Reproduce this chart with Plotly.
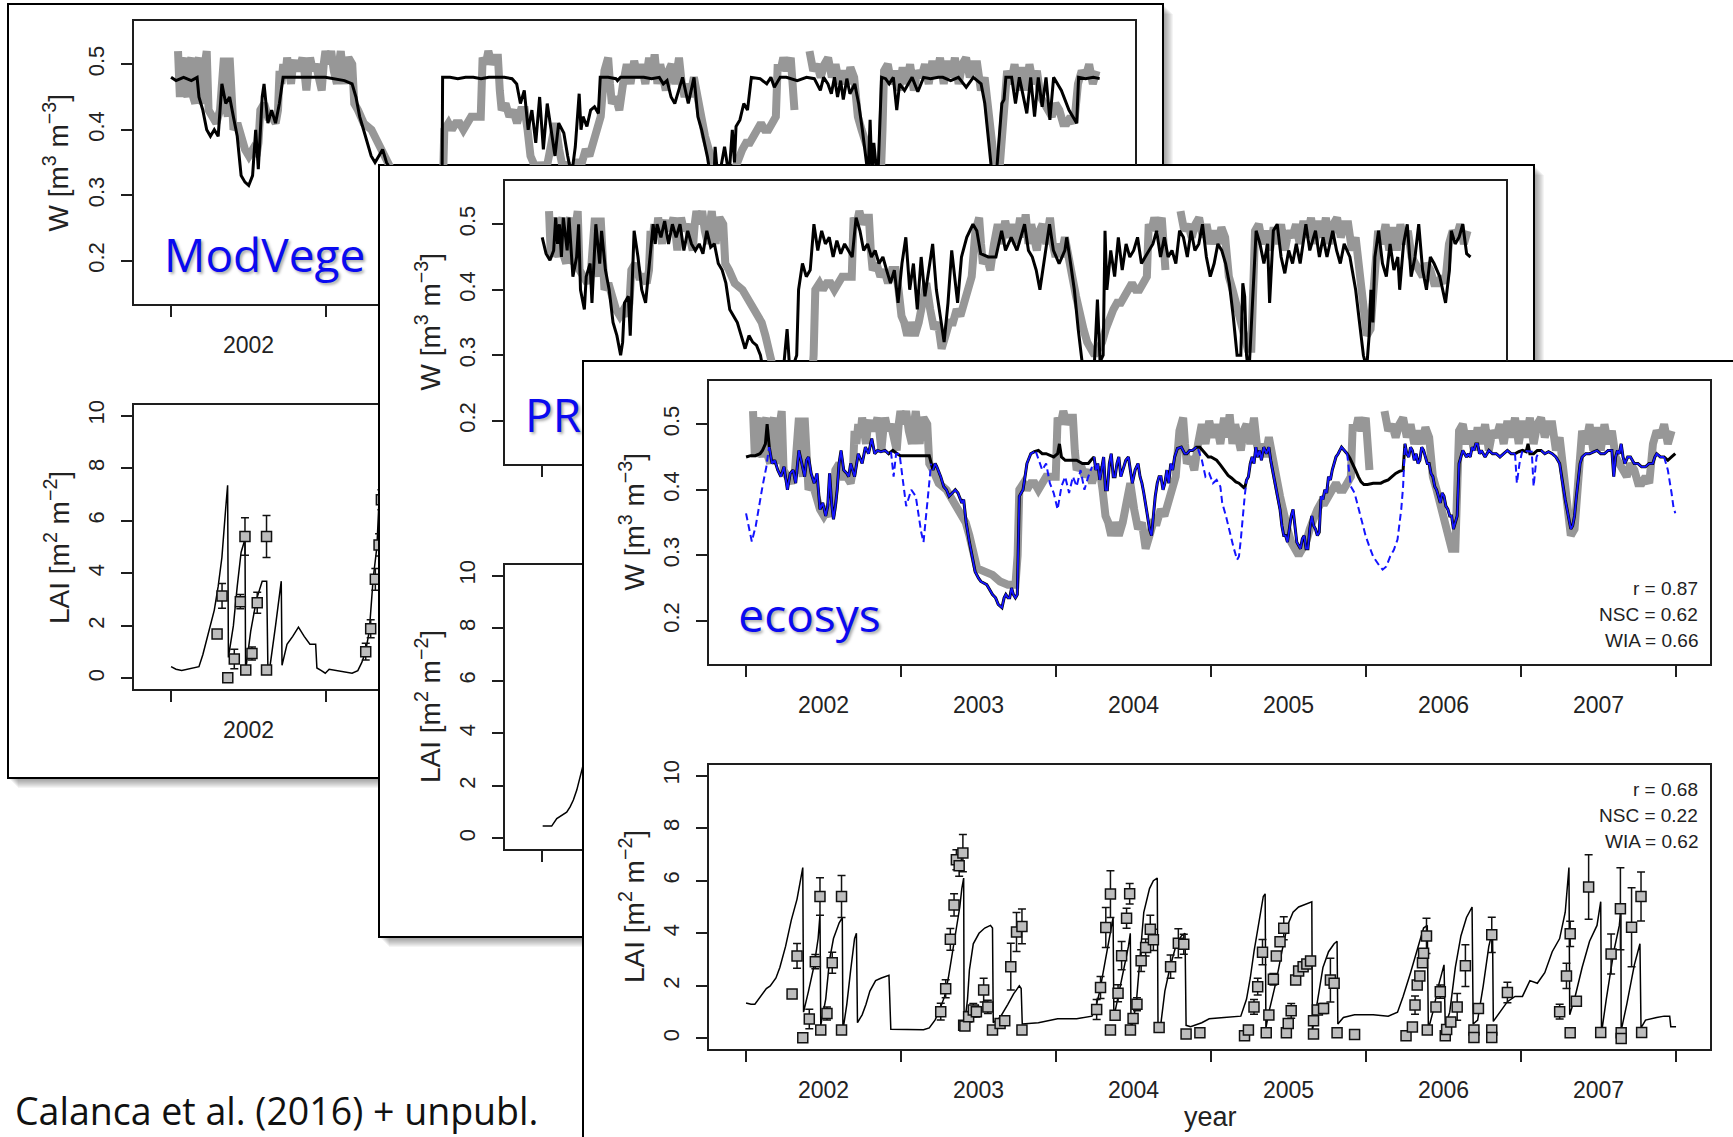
import plotly.graph_objects as go

FIG_W, FIG_H = 1733, 1137

# ---------------- axis tick values ----------------
YEAR_TICKS = [2002, 2003, 2004, 2005, 2006, 2007, 2008]
YEAR_LABEL_POS = [2002.5, 2003.5, 2004.5, 2005.5, 2006.5, 2007.5]
YEAR_LABELS = ["2002", "2003", "2004", "2005", "2006", "2007"]
W_TICKS = [0.2, 0.3, 0.4, 0.5]
W_TICK_TEXT = ["0.2", "0.3", "0.4", "0.5"]
LAI_TICKS = [0, 2, 4, 6, 8, 10]
LAI_TICK_TEXT = ["0", "2", "4", "6", "8", "10"]

MODEL_NAMES = ["ModVege", "PROGRASS", "ecosys"]
STATS_W = ["r = 0.87", "NSC = 0.62", "WIA = 0.66"]
STATS_LAI = ["r = 0.68", "NSC = 0.22", "WIA = 0.62"]

# ---------------- observed soil water (shared by all panels) ----------------
W_OBS = [
    [2002.045, 0.52], [2002.057, 0.45], [2002.070, 0.50], [2002.082, 0.51], [2002.094, 0.46],
    [2002.106, 0.45], [2002.118, 0.50], [2002.131, 0.51], [2002.143, 0.45], [2002.156, 0.44],
    [2002.168, 0.50], [2002.180, 0.51], [2002.193, 0.45], [2002.205, 0.44], [2002.218, 0.50],
    [2002.230, 0.52], [2002.242, 0.43], [2002.267, 0.42], [2002.292, 0.41], [2002.316, 0.43],
    [2002.330, 0.47], [2002.341, 0.51], [2002.352, 0.44], [2002.366, 0.42], [2002.378, 0.51],
    [2002.390, 0.43], [2002.403, 0.40], [2002.428, 0.41], [2002.452, 0.39], [2002.477, 0.37],
    [2002.502, 0.36], [2002.527, 0.37], [2002.551, 0.36], [2002.564, 0.38], [2002.576, 0.43],
    [2002.601, 0.44], [2002.625, 0.42], [2002.650, 0.42], [2002.675, 0.41], [2002.690, 0.43],
    [2002.700, 0.49], [2002.712, 0.47], [2002.724, 0.50], [2002.737, 0.48], [2002.749, 0.51],
    [2002.762, 0.48], [2002.774, 0.47], [2002.787, 0.50], [2002.799, 0.505], [2002.823, 0.49],
    [2002.848, 0.51], [2002.860, 0.49], [2002.873, 0.46], [2002.885, 0.49], [2002.897, 0.51],
    [2002.915, 0.49], [2002.934, 0.50], [2002.953, 0.48], [2002.972, 0.46], [2002.985, 0.50],
    [2002.996, 0.52], [2003.015, 0.50], [2003.033, 0.52], [2003.050, 0.49], [2003.070, 0.47],
    [2003.083, 0.50], [2003.095, 0.52], [2003.108, 0.49], [2003.120, 0.47], [2003.133, 0.50],
    [2003.145, 0.51], [2003.169, 0.50], [2003.182, 0.44], [2003.206, 0.43], [2003.243, 0.41],
    [2003.293, 0.40], [2003.342, 0.38], [2003.367, 0.37], [2003.392, 0.36], [2003.417, 0.35],
    [2003.441, 0.33], [2003.466, 0.30], [2003.491, 0.28], [2003.540, 0.275], [2003.590, 0.27],
    [2003.639, 0.26], [2003.689, 0.255], [2003.738, 0.255], [2003.752, 0.30], [2003.763, 0.40],
    [2003.790, 0.41], [2003.812, 0.40], [2003.837, 0.41], [2003.862, 0.41], [2003.886, 0.40],
    [2003.911, 0.41], [2003.936, 0.42], [2003.960, 0.42], [2003.998, 0.42], [2004.010, 0.51],
    [2004.030, 0.50], [2004.047, 0.52], [2004.070, 0.50], [2004.090, 0.51], [2004.109, 0.51],
    [2004.121, 0.46], [2004.133, 0.43], [2004.158, 0.44], [2004.183, 0.42], [2004.207, 0.43],
    [2004.232, 0.41], [2004.257, 0.43], [2004.282, 0.43], [2004.300, 0.40], [2004.319, 0.36],
    [2004.337, 0.35], [2004.356, 0.33], [2004.380, 0.35], [2004.405, 0.33], [2004.430, 0.35],
    [2004.455, 0.38], [2004.479, 0.41], [2004.504, 0.37], [2004.529, 0.34], [2004.554, 0.35],
    [2004.578, 0.31], [2004.603, 0.33], [2004.627, 0.35], [2004.651, 0.35], [2004.675, 0.37],
    [2004.699, 0.36], [2004.723, 0.38], [2004.747, 0.40], [2004.772, 0.42], [2004.796, 0.49],
    [2004.820, 0.51], [2004.832, 0.47], [2004.844, 0.44], [2004.868, 0.45], [2004.892, 0.43],
    [2004.916, 0.47], [2004.940, 0.50], [2004.964, 0.47], [2004.988, 0.505], [2005.012, 0.48],
    [2005.036, 0.50], [2005.060, 0.47], [2005.084, 0.51], [2005.102, 0.48], [2005.120, 0.515],
    [2005.138, 0.47], [2005.156, 0.50], [2005.174, 0.48], [2005.192, 0.46], [2005.210, 0.49],
    [2005.229, 0.50], [2005.253, 0.47], [2005.277, 0.51], [2005.295, 0.47], [2005.313, 0.45],
    [2005.331, 0.47], [2005.349, 0.45], [2005.373, 0.48], [2005.397, 0.44], [2005.421, 0.42],
    [2005.445, 0.39], [2005.469, 0.36], [2005.493, 0.34], [2005.517, 0.32], [2005.541, 0.31],
    [2005.565, 0.30], [2005.589, 0.31], [2005.613, 0.32], [2005.637, 0.34], [2005.662, 0.36],
    [2005.686, 0.37], [2005.710, 0.38], [2005.734, 0.38], [2005.758, 0.39], [2005.782, 0.40],
    [2005.806, 0.41], [2005.830, 0.40], [2005.854, 0.40], [2005.878, 0.41], [2005.902, 0.42],
    [2005.914, 0.50], [2005.932, 0.49], [2005.950, 0.51], [2005.974, 0.49], [2005.998, 0.51],
    [2006.010, 0.47], [2006.022, 0.43], [None, None],
    [2006.119, 0.52], [2006.143, 0.49], [2006.167, 0.50], [2006.191, 0.48], [2006.215, 0.50],
    [2006.239, 0.51], [2006.263, 0.48], [2006.287, 0.50], [2006.311, 0.47], [2006.335, 0.49],
    [2006.359, 0.47], [2006.383, 0.495], [2006.407, 0.48], [2006.431, 0.42], [2006.455, 0.40],
    [2006.479, 0.38], [2006.503, 0.36], [2006.528, 0.34], [2006.552, 0.31], [2006.576, 0.31],
    [2006.590, 0.40], [2006.600, 0.49], [2006.624, 0.50], [2006.648, 0.47], [2006.672, 0.49],
    [2006.696, 0.46], [2006.720, 0.495], [2006.744, 0.47], [2006.768, 0.50], [2006.792, 0.46],
    [2006.816, 0.49], [2006.840, 0.48], [2006.864, 0.50], [2006.888, 0.47], [2006.912, 0.505],
    [2006.936, 0.48], [2006.961, 0.51], [2006.985, 0.47], [2007.009, 0.505], [2007.033, 0.48],
    [2007.057, 0.51], [2007.081, 0.47], [2007.105, 0.50], [2007.129, 0.51], [2007.153, 0.48],
    [2007.177, 0.50], [2007.201, 0.50], [2007.225, 0.46], [2007.249, 0.48], [2007.273, 0.42],
    [2007.297, 0.38], [2007.321, 0.33], [2007.345, 0.34], [2007.369, 0.42], [2007.394, 0.49],
    [2007.418, 0.47], [2007.442, 0.50], [2007.466, 0.46], [2007.490, 0.495], [2007.514, 0.46],
    [2007.538, 0.50], [2007.562, 0.47], [2007.586, 0.49], [2007.610, 0.45], [2007.634, 0.44],
    [2007.658, 0.43], [2007.682, 0.42], [2007.706, 0.44], [2007.731, 0.43], [2007.755, 0.41],
    [2007.779, 0.41], [2007.803, 0.42], [2007.827, 0.41], [2007.851, 0.47], [2007.875, 0.49],
    [2007.899, 0.48], [2007.923, 0.50], [2007.947, 0.47], [2007.971, 0.49],
]

# ---------------- simulated soil water ----------------
W_MODVEGE = [
    [2002.000, 0.480], [2002.032, 0.475], [2002.081, 0.480], [2002.131, 0.475], [2002.168, 0.480],
    [2002.180, 0.450], [2002.205, 0.430], [2002.230, 0.400], [2002.254, 0.390], [2002.279, 0.400],
    [2002.304, 0.390], [2002.328, 0.470], [2002.353, 0.440], [2002.378, 0.450], [2002.402, 0.420],
    [2002.427, 0.390], [2002.452, 0.330], [2002.477, 0.320], [2002.501, 0.315], [2002.526, 0.330],
    [2002.546, 0.400], [2002.563, 0.340], [2002.588, 0.450], [2002.600, 0.470], [2002.625, 0.410],
    [2002.649, 0.430], [2002.674, 0.410], [2002.699, 0.440], [2002.723, 0.480], [2002.773, 0.480],
    [2002.872, 0.480], [2002.995, 0.480], [2003.119, 0.475], [2003.168, 0.470], [2003.193, 0.450],
    [2003.217, 0.420], [2003.242, 0.400], [2003.267, 0.380], [2003.291, 0.360], [2003.316, 0.350],
    [2003.341, 0.360], [2003.365, 0.370], [2003.390, 0.350], [2003.415, 0.340], [2003.440, 0.330],
    [2003.500, 0.290], [2003.560, 0.260], [2003.620, 0.240], [2003.680, 0.240], [2003.740, 0.260],
    [2003.748, 0.300], [2003.752, 0.480], [2003.800, 0.480], [2003.850, 0.478], [2003.900, 0.480],
    [2003.950, 0.480], [2004.000, 0.478], [2004.050, 0.480], [2004.100, 0.480], [2004.150, 0.480],
    [2004.200, 0.478], [2004.230, 0.470], [2004.254, 0.440], [2004.279, 0.460], [2004.304, 0.400],
    [2004.328, 0.430], [2004.353, 0.380], [2004.378, 0.450], [2004.402, 0.370], [2004.427, 0.440],
    [2004.452, 0.400], [2004.477, 0.360], [2004.501, 0.410], [2004.534, 0.395], [2004.559, 0.360],
    [2004.584, 0.330], [2004.608, 0.374], [2004.633, 0.455], [2004.645, 0.400], [2004.658, 0.420],
    [2004.683, 0.405], [2004.707, 0.430], [2004.732, 0.435], [2004.757, 0.425], [2004.769, 0.480],
    [2004.820, 0.480], [2004.870, 0.478], [2004.880, 0.475], [2004.900, 0.480], [2004.950, 0.480],
    [2005.000, 0.480], [2005.050, 0.480], [2005.100, 0.478], [2005.150, 0.480], [2005.176, 0.470],
    [2005.200, 0.475], [2005.226, 0.450], [2005.250, 0.440], [2005.275, 0.460], [2005.300, 0.480],
    [2005.337, 0.440], [2005.374, 0.480], [2005.399, 0.420], [2005.423, 0.400], [2005.460, 0.359],
    [2005.485, 0.330], [2005.500, 0.300], [2005.510, 0.374], [2005.530, 0.320], [2005.571, 0.374],
    [2005.600, 0.330], [2005.621, 0.400], [2005.635, 0.350], [2005.645, 0.405], [2005.670, 0.415],
    [2005.695, 0.440], [2005.719, 0.430], [2005.744, 0.480], [2005.800, 0.478], [2005.843, 0.470],
    [2005.870, 0.480], [2005.892, 0.465], [2005.930, 0.480], [2005.970, 0.480], [2006.000, 0.478],
    [2006.040, 0.475], [2006.100, 0.480], [2006.150, 0.478], [2006.189, 0.460], [2006.210, 0.480],
    [2006.238, 0.470], [2006.260, 0.455], [2006.280, 0.480], [2006.300, 0.450], [2006.320, 0.475],
    [2006.337, 0.446], [2006.360, 0.478], [2006.380, 0.455], [2006.411, 0.470], [2006.436, 0.440],
    [2006.460, 0.400], [2006.485, 0.360], [2006.497, 0.330], [2006.510, 0.415], [2006.522, 0.330],
    [2006.534, 0.380], [2006.559, 0.320], [2006.584, 0.480], [2006.610, 0.478], [2006.633, 0.470],
    [2006.660, 0.480], [2006.682, 0.430], [2006.700, 0.470], [2006.732, 0.460], [2006.781, 0.480],
    [2006.818, 0.458], [2006.855, 0.480], [2006.900, 0.478], [2006.950, 0.480], [2006.979, 0.480],
    [2007.030, 0.475], [2007.080, 0.480], [2007.130, 0.465], [2007.176, 0.480], [2007.226, 0.470],
    [2007.250, 0.440], [2007.275, 0.390], [2007.300, 0.340], [2007.310, 0.300], [2007.324, 0.330],
    [2007.349, 0.415], [2007.360, 0.440], [2007.374, 0.446], [2007.386, 0.480], [2007.423, 0.480],
    [2007.448, 0.440], [2007.473, 0.480], [2007.497, 0.450], [2007.521, 0.425], [2007.546, 0.480],
    [2007.571, 0.420], [2007.595, 0.480], [2007.620, 0.435], [2007.645, 0.480], [2007.670, 0.415],
    [2007.694, 0.480], [2007.719, 0.470], [2007.744, 0.460], [2007.793, 0.430], [2007.843, 0.410],
    [2007.855, 0.480], [2007.900, 0.478], [2007.950, 0.480], [2007.991, 0.478],
]

W_PROGRASS = [
    [2002.001, 0.48], [2002.026, 0.455], [2002.051, 0.445], [2002.075, 0.46], [2002.088, 0.51],
    [2002.100, 0.47], [2002.112, 0.50], [2002.125, 0.45], [2002.137, 0.51], [2002.162, 0.46],
    [2002.174, 0.51], [2002.199, 0.42], [2002.223, 0.45], [2002.236, 0.50], [2002.248, 0.40],
    [2002.273, 0.37], [2002.285, 0.42], [2002.310, 0.44], [2002.322, 0.38], [2002.347, 0.50],
    [2002.372, 0.44], [2002.384, 0.49], [2002.409, 0.43], [2002.433, 0.40], [2002.458, 0.35],
    [2002.483, 0.33], [2002.507, 0.30], [2002.520, 0.32], [2002.532, 0.38], [2002.557, 0.39],
    [2002.569, 0.33], [2002.594, 0.49], [2002.619, 0.45], [2002.643, 0.40], [2002.668, 0.38],
    [2002.693, 0.44], [2002.717, 0.50], [2002.730, 0.47], [2002.742, 0.50], [2002.767, 0.48],
    [2002.791, 0.505], [2002.816, 0.47], [2002.841, 0.50], [2002.865, 0.48], [2002.890, 0.50],
    [2002.915, 0.46], [2002.940, 0.49], [2002.964, 0.47], [2002.989, 0.46], [2003.014, 0.47],
    [2003.038, 0.455], [2003.063, 0.49], [2003.088, 0.465], [2003.112, 0.47], [2003.137, 0.44],
    [2003.162, 0.43], [2003.186, 0.41], [2003.211, 0.37], [2003.236, 0.36], [2003.260, 0.35],
    [2003.285, 0.33], [2003.310, 0.31], [2003.335, 0.33], [2003.359, 0.32], [2003.384, 0.315],
    [2003.409, 0.30], [2003.433, 0.27], [2003.470, 0.26], [2003.507, 0.25], [2003.550, 0.26],
    [2003.581, 0.34], [2003.600, 0.27], [2003.643, 0.30], [2003.655, 0.40], [2003.680, 0.44],
    [2003.705, 0.42], [2003.730, 0.43], [2003.754, 0.50], [2003.779, 0.46], [2003.804, 0.49],
    [2003.828, 0.47], [2003.853, 0.48], [2003.878, 0.45], [2003.902, 0.475], [2003.927, 0.455],
    [2003.952, 0.47], [2003.977, 0.46], [2004.001, 0.45], [2004.026, 0.51], [2004.051, 0.49],
    [2004.075, 0.46], [2004.100, 0.47], [2004.125, 0.45], [2004.149, 0.46], [2004.174, 0.44],
    [2004.199, 0.45], [2004.223, 0.43], [2004.248, 0.41], [2004.273, 0.43], [2004.297, 0.38],
    [2004.322, 0.44], [2004.347, 0.48], [2004.372, 0.40], [2004.396, 0.44], [2004.421, 0.37],
    [2004.446, 0.45], [2004.470, 0.39], [2004.495, 0.43], [2004.520, 0.47], [2004.544, 0.40],
    [2004.569, 0.36], [2004.594, 0.32], [2004.619, 0.38], [2004.643, 0.46], [2004.681, 0.38],
    [2004.706, 0.45], [2004.740, 0.48], [2004.780, 0.50], [2004.805, 0.49], [2004.830, 0.455],
    [2004.879, 0.45], [2004.928, 0.45], [2004.965, 0.49], [2004.990, 0.46], [2005.027, 0.48],
    [2005.064, 0.46], [2005.113, 0.50], [2005.138, 0.46], [2005.163, 0.45], [2005.188, 0.43],
    [2005.212, 0.40], [2005.237, 0.44], [2005.274, 0.50], [2005.299, 0.46], [2005.336, 0.44],
    [2005.373, 0.46], [2005.385, 0.48], [2005.410, 0.44], [2005.434, 0.40], [2005.459, 0.34],
    [2005.484, 0.29], [2005.520, 0.27], [2005.560, 0.27], [2005.583, 0.385], [2005.600, 0.29],
    [2005.620, 0.30], [2005.632, 0.49], [2005.644, 0.40], [2005.669, 0.46], [2005.694, 0.42],
    [2005.718, 0.48], [2005.743, 0.43], [2005.768, 0.47], [2005.792, 0.45], [2005.817, 0.46],
    [2005.842, 0.48], [2005.867, 0.44], [2005.891, 0.45], [2005.916, 0.46], [2005.941, 0.47],
    [2005.965, 0.49], [2005.990, 0.45], [2006.015, 0.48], [2006.039, 0.45], [2006.064, 0.46],
    [2006.089, 0.44], [2006.113, 0.49], [2006.138, 0.48], [2006.163, 0.45], [2006.187, 0.49],
    [2006.212, 0.46], [2006.237, 0.47], [2006.261, 0.50], [2006.286, 0.45], [2006.311, 0.42],
    [2006.336, 0.44], [2006.360, 0.47], [2006.385, 0.46], [2006.410, 0.44], [2006.434, 0.41],
    [2006.459, 0.36], [2006.484, 0.30], [2006.508, 0.30], [2006.521, 0.41], [2006.533, 0.39],
    [2006.545, 0.30], [2006.560, 0.27], [2006.582, 0.38], [2006.607, 0.49], [2006.632, 0.47],
    [2006.657, 0.44], [2006.681, 0.47], [2006.694, 0.38], [2006.718, 0.49], [2006.743, 0.50],
    [2006.768, 0.45], [2006.792, 0.425], [2006.817, 0.46], [2006.842, 0.44], [2006.866, 0.47],
    [2006.891, 0.44], [2006.928, 0.50], [2006.953, 0.46], [2006.990, 0.49], [2007.015, 0.45],
    [2007.039, 0.48], [2007.064, 0.45], [2007.101, 0.49], [2007.126, 0.46], [2007.150, 0.44],
    [2007.175, 0.47], [2007.212, 0.45], [2007.249, 0.40], [2007.274, 0.35], [2007.299, 0.30],
    [2007.320, 0.28], [2007.336, 0.33], [2007.348, 0.40], [2007.360, 0.35], [2007.373, 0.45],
    [2007.397, 0.49], [2007.422, 0.44], [2007.447, 0.42], [2007.471, 0.47], [2007.496, 0.43],
    [2007.521, 0.45], [2007.533, 0.40], [2007.558, 0.47], [2007.582, 0.50], [2007.607, 0.42],
    [2007.632, 0.45], [2007.656, 0.50], [2007.681, 0.43], [2007.706, 0.40], [2007.731, 0.45],
    [2007.755, 0.44], [2007.792, 0.42], [2007.829, 0.38], [2007.854, 0.43], [2007.866, 0.49],
    [2007.891, 0.47], [2007.916, 0.48], [2007.940, 0.50], [2007.965, 0.455], [2007.990, 0.45],
]

W_ECOSYS = [
    [2002.000, 0.450], [2002.030, 0.452], [2002.060, 0.452], [2002.090, 0.455], [2002.106, 0.460],
    [2002.125, 0.470], [2002.136, 0.500], [2002.150, 0.465], [2002.168, 0.440], [2002.185, 0.445],
    [2002.205, 0.430], [2002.225, 0.420], [2002.245, 0.435], [2002.267, 0.400], [2002.285, 0.425],
    [2002.304, 0.430], [2002.320, 0.410], [2002.341, 0.460], [2002.360, 0.440], [2002.378, 0.420],
    [2002.390, 0.445], [2002.403, 0.450], [2002.420, 0.425], [2002.440, 0.410], [2002.458, 0.425],
    [2002.477, 0.370], [2002.495, 0.380], [2002.514, 0.360], [2002.527, 0.375], [2002.539, 0.425],
    [2002.552, 0.380], [2002.564, 0.355], [2002.576, 0.375], [2002.588, 0.400], [2002.600, 0.440],
    [2002.613, 0.460], [2002.630, 0.430], [2002.650, 0.425], [2002.662, 0.420], [2002.675, 0.440],
    [2002.700, 0.420], [2002.724, 0.455], [2002.749, 0.440], [2002.770, 0.465], [2002.790, 0.455],
    [2002.811, 0.478], [2002.830, 0.455], [2002.848, 0.460], [2002.870, 0.458], [2002.897, 0.460],
    [2002.920, 0.455], [2002.947, 0.460], [2002.975, 0.455], [2002.996, 0.452], [2003.050, 0.452],
    [2003.100, 0.452], [2003.150, 0.452], [2003.182, 0.452], [2003.206, 0.430], [2003.220, 0.440],
    [2003.231, 0.435], [2003.256, 0.420], [2003.275, 0.405], [2003.293, 0.400], [2003.310, 0.390],
    [2003.330, 0.395], [2003.350, 0.400], [2003.367, 0.395], [2003.392, 0.380], [2003.404, 0.385],
    [2003.420, 0.350], [2003.441, 0.320], [2003.460, 0.295], [2003.478, 0.275], [2003.500, 0.265],
    [2003.515, 0.260], [2003.553, 0.255], [2003.590, 0.240], [2003.610, 0.235], [2003.627, 0.225],
    [2003.651, 0.220], [2003.665, 0.235], [2003.676, 0.240], [2003.690, 0.235], [2003.701, 0.235],
    [2003.713, 0.250], [2003.725, 0.240], [2003.738, 0.235], [2003.750, 0.240], [2003.763, 0.390],
    [2003.775, 0.395], [2003.787, 0.400], [2003.800, 0.420], [2003.812, 0.440], [2003.837, 0.455],
    [2003.860, 0.458], [2003.886, 0.460], [2003.911, 0.455], [2003.936, 0.455], [2003.960, 0.452],
    [2003.985, 0.450], [2004.010, 0.455], [2004.022, 0.470], [2004.035, 0.450], [2004.059, 0.445],
    [2004.090, 0.445], [2004.133, 0.445], [2004.170, 0.440], [2004.208, 0.440], [2004.225, 0.445],
    [2004.245, 0.450], [2004.257, 0.430], [2004.269, 0.440], [2004.282, 0.415], [2004.294, 0.430],
    [2004.307, 0.450], [2004.319, 0.400], [2004.331, 0.400], [2004.344, 0.440], [2004.356, 0.455],
    [2004.369, 0.420], [2004.381, 0.420], [2004.393, 0.440], [2004.405, 0.450], [2004.418, 0.420],
    [2004.430, 0.430], [2004.450, 0.445], [2004.467, 0.450], [2004.480, 0.425], [2004.492, 0.410],
    [2004.510, 0.430], [2004.529, 0.440], [2004.542, 0.420], [2004.554, 0.410], [2004.566, 0.395],
    [2004.578, 0.380], [2004.590, 0.360], [2004.603, 0.340], [2004.616, 0.330], [2004.628, 0.360],
    [2004.640, 0.390], [2004.653, 0.410], [2004.665, 0.420], [2004.677, 0.420], [2004.690, 0.400],
    [2004.702, 0.410], [2004.715, 0.430], [2004.727, 0.410], [2004.740, 0.440], [2004.752, 0.430],
    [2004.765, 0.450], [2004.783, 0.463], [2004.808, 0.465], [2004.830, 0.455], [2004.844, 0.455],
    [2004.862, 0.460], [2004.880, 0.460], [2004.905, 0.465], [2004.928, 0.465], [2004.946, 0.460],
    [2004.964, 0.455], [2004.982, 0.450], [2005.000, 0.450], [2005.036, 0.445], [2005.060, 0.438],
    [2005.084, 0.430], [2005.110, 0.422], [2005.132, 0.418], [2005.160, 0.412], [2005.180, 0.410],
    [2005.200, 0.406], [2005.217, 0.402], [2005.229, 0.415], [2005.241, 0.420], [2005.253, 0.440],
    [2005.265, 0.450], [2005.277, 0.440], [2005.289, 0.465], [2005.300, 0.450], [2005.313, 0.460],
    [2005.325, 0.445], [2005.340, 0.465], [2005.357, 0.455], [2005.373, 0.465], [2005.385, 0.445],
    [2005.397, 0.430], [2005.409, 0.415], [2005.421, 0.400], [2005.433, 0.385], [2005.445, 0.370],
    [2005.457, 0.345], [2005.469, 0.330], [2005.481, 0.330], [2005.493, 0.320], [2005.505, 0.340],
    [2005.517, 0.360], [2005.529, 0.370], [2005.541, 0.345], [2005.553, 0.320], [2005.565, 0.315],
    [2005.577, 0.310], [2005.589, 0.325], [2005.601, 0.330], [2005.613, 0.310], [2005.625, 0.310],
    [2005.637, 0.340], [2005.650, 0.360], [2005.662, 0.345], [2005.674, 0.340], [2005.686, 0.330],
    [2005.698, 0.335], [2005.710, 0.390], [2005.722, 0.385], [2005.734, 0.400], [2005.746, 0.395],
    [2005.758, 0.420], [2005.770, 0.415], [2005.782, 0.430], [2005.794, 0.440], [2005.806, 0.450],
    [2005.820, 0.455], [2005.842, 0.465], [2005.860, 0.460], [2005.878, 0.455], [2005.896, 0.448],
    [2005.914, 0.440], [2005.932, 0.430], [2005.950, 0.420], [2005.968, 0.412], [2005.986, 0.408],
    [2006.010, 0.408], [2006.046, 0.410], [2006.070, 0.410], [2006.095, 0.410], [2006.120, 0.413],
    [2006.143, 0.415], [2006.167, 0.420], [2006.191, 0.425], [2006.215, 0.428], [2006.239, 0.430],
    [2006.251, 0.470], [2006.263, 0.455], [2006.275, 0.450], [2006.287, 0.465], [2006.299, 0.460],
    [2006.311, 0.445], [2006.323, 0.455], [2006.335, 0.440], [2006.347, 0.445], [2006.359, 0.465],
    [2006.371, 0.460], [2006.383, 0.450], [2006.395, 0.440], [2006.407, 0.440], [2006.419, 0.425],
    [2006.431, 0.420], [2006.443, 0.405], [2006.455, 0.400], [2006.467, 0.390], [2006.479, 0.380],
    [2006.491, 0.395], [2006.503, 0.390], [2006.515, 0.375], [2006.528, 0.370], [2006.540, 0.360],
    [2006.552, 0.360], [2006.564, 0.340], [2006.576, 0.350], [2006.588, 0.360], [2006.600, 0.440],
    [2006.612, 0.450], [2006.624, 0.460], [2006.648, 0.450], [2006.660, 0.455], [2006.672, 0.450],
    [2006.684, 0.465], [2006.696, 0.460], [2006.708, 0.470], [2006.720, 0.470], [2006.732, 0.455],
    [2006.744, 0.460], [2006.768, 0.450], [2006.792, 0.460], [2006.816, 0.455], [2006.840, 0.455],
    [2006.864, 0.450], [2006.888, 0.455], [2006.912, 0.460], [2006.936, 0.455], [2006.961, 0.455],
    [2006.985, 0.458], [2007.009, 0.460], [2007.033, 0.458], [2007.045, 0.470], [2007.057, 0.455],
    [2007.081, 0.455], [2007.105, 0.460], [2007.129, 0.460], [2007.153, 0.455], [2007.177, 0.458],
    [2007.201, 0.455], [2007.225, 0.450], [2007.249, 0.440], [2007.261, 0.420], [2007.273, 0.400],
    [2007.285, 0.385], [2007.297, 0.370], [2007.309, 0.355], [2007.321, 0.340], [2007.333, 0.345],
    [2007.345, 0.360], [2007.357, 0.390], [2007.369, 0.420], [2007.381, 0.440], [2007.394, 0.450],
    [2007.418, 0.455], [2007.442, 0.455], [2007.466, 0.458], [2007.490, 0.460], [2007.514, 0.455],
    [2007.538, 0.455], [2007.562, 0.460], [2007.586, 0.460], [2007.598, 0.420], [2007.610, 0.450],
    [2007.622, 0.460], [2007.634, 0.455], [2007.646, 0.470], [2007.658, 0.450], [2007.670, 0.440],
    [2007.688, 0.450], [2007.706, 0.450], [2007.730, 0.440], [2007.754, 0.440], [2007.778, 0.435],
    [2007.802, 0.435], [2007.826, 0.440], [2007.850, 0.440], [2007.863, 0.450], [2007.875, 0.455],
    [2007.899, 0.450], [2007.923, 0.450], [2007.947, 0.445], [2007.971, 0.450], [2007.995, 0.455],
]

# liquid water (ecosys): equals total water outside the frozen periods (solid),
# winter (frozen) periods drawn dashed
LIQ_SOLID_WINDOWS = [
    [2002.148, 2002.935], [2003.195, 2003.870], [2004.232, 2004.916],
    [2005.229, 2005.878], [2006.251, 2006.961], [2007.117, 2007.923],
]
W_ECOSYS_LIQ_WINTER = [
    [[2002.000, 0.364], [2002.037, 0.321], [2002.062, 0.344], [2002.082, 0.374],
     [2002.106, 0.405], [2002.131, 0.435], [2002.148, 0.465]],
    [[2002.935, 0.458], [2002.952, 0.420], [2002.968, 0.455], [2002.990, 0.455],
     [2003.033, 0.375], [2003.066, 0.400], [2003.095, 0.390], [2003.130, 0.335],
     [2003.145, 0.320], [2003.157, 0.350], [2003.174, 0.400], [2003.194, 0.440]],
    [[2003.870, 0.458], [2003.911, 0.430], [2003.936, 0.440], [2003.960, 0.410],
     [2003.985, 0.395], [2004.010, 0.370], [2004.035, 0.405], [2004.059, 0.420],
     [2004.084, 0.395], [2004.109, 0.420], [2004.133, 0.405], [2004.158, 0.430],
     [2004.183, 0.400], [2004.208, 0.420], [2004.232, 0.435]],
    [[2004.916, 0.462], [2004.940, 0.446], [2004.964, 0.420], [2004.988, 0.425],
     [2005.012, 0.410], [2005.036, 0.415], [2005.060, 0.405], [2005.072, 0.380],
     [2005.096, 0.360], [2005.120, 0.334], [2005.144, 0.313], [2005.168, 0.293],
     [2005.180, 0.298], [2005.192, 0.324], [2005.204, 0.360], [2005.217, 0.390],
     [2005.229, 0.415]],
    [[2005.878, 0.455], [2005.902, 0.405], [2005.926, 0.395], [2005.950, 0.374],
     [2005.974, 0.354], [2005.998, 0.329], [2006.022, 0.313], [2006.046, 0.298],
     [2006.083, 0.285], [2006.107, 0.278], [2006.131, 0.283], [2006.155, 0.298],
     [2006.179, 0.308], [2006.203, 0.324], [2006.227, 0.370], [2006.239, 0.405],
     [2006.251, 0.470]],
    [[2006.961, 0.455], [2006.973, 0.410], [2006.990, 0.440], [2007.009, 0.460],
     [2007.069, 0.458], [2007.081, 0.405], [2007.100, 0.450], [2007.117, 0.458]],
    [[2007.923, 0.450], [2007.947, 0.430], [2007.971, 0.395], [2007.983, 0.374],
     [2007.995, 0.364]],
]

# ---------------- simulated LAI ----------------
LAI_MODVEGE = [
    [2002.000, 0.45], [2002.032, 0.35], [2002.069, 0.30], [2002.106, 0.35], [2002.143, 0.40],
    [2002.180, 0.45], [2002.205, 0.90], [2002.230, 1.50], [2002.254, 2.00], [2002.279, 2.60],
    [2002.304, 3.50], [2002.328, 4.60], [2002.353, 6.50], [2002.365, 7.35], [2002.370, 0.80],
    [2002.402, 2.00], [2002.427, 3.50], [2002.452, 4.80], [2002.477, 5.30], [2002.481, 0.30],
    [2002.514, 1.80], [2002.551, 3.00], [2002.588, 3.70], [2002.617, 3.70], [2002.625, 0.30],
    [2002.637, 0.40], [2002.674, 2.00], [2002.711, 3.70], [2002.716, 0.50], [2002.748, 1.30],
    [2002.785, 1.60], [2002.822, 1.95], [2002.859, 1.60], [2002.896, 1.30], [2002.933, 1.30],
    [2002.941, 0.40], [2002.970, 0.30], [2002.995, 0.20], [2003.020, 0.35], [2003.069, 0.30],
    [2003.119, 0.25], [2003.168, 0.20], [2003.205, 0.30], [2003.230, 0.60], [2003.254, 1.00],
    [2003.279, 1.80], [2003.304, 3.80], [2003.328, 5.00], [2003.346, 7.30], [2003.400, 0.50],
]
LAI_PROGRASS = [
    [2002.004, 0.47], [2002.062, 0.47], [2002.095, 0.76], [2002.127, 0.89], [2002.159, 1.00],
    [2002.181, 1.20], [2002.202, 1.46], [2002.224, 1.84], [2002.245, 2.35], [2002.263, 2.80],
    [2002.300, 3.60], [2002.350, 4.50],
]
LAI_ECOSYS = [
    [2002.000, 1.35], [2002.032, 1.30], [2002.057, 1.30], [2002.094, 1.60], [2002.131, 1.90],
    [2002.156, 2.00], [2002.193, 2.30], [2002.218, 2.70], [2002.255, 3.50], [2002.292, 4.50],
    [2002.329, 5.30], [2002.366, 6.50], [2002.371, 1.00], [2002.403, 1.80], [2002.440, 2.80],
    [2002.465, 3.80], [2002.477, 4.70], [2002.482, 0.50], [2002.514, 1.50], [2002.539, 3.00],
    [2002.564, 3.80], [2002.601, 4.40], [2002.621, 4.60], [2002.625, 0.30], [2002.650, 1.30],
    [2002.675, 2.60], [2002.700, 3.80], [2002.712, 4.00], [2002.719, 0.60], [2002.749, 0.90],
    [2002.774, 1.30], [2002.799, 1.80], [2002.836, 2.20], [2002.873, 2.30], [2002.922, 2.40],
    [2002.934, 0.35], [2002.996, 0.35], [2003.070, 0.35], [2003.145, 0.33], [2003.182, 0.40],
    [2003.219, 0.70], [2003.243, 1.00], [2003.281, 1.60], [2003.305, 2.30], [2003.330, 3.20],
    [2003.355, 4.00], [2003.379, 5.00], [2003.392, 5.70], [2003.404, 6.10], [2003.407, 0.40],
    [2003.429, 1.50], [2003.441, 2.60], [2003.466, 3.60], [2003.503, 4.00], [2003.540, 4.20],
    [2003.577, 4.30], [2003.590, 4.20], [2003.595, 0.60], [2003.639, 0.80], [2003.689, 1.30],
    [2003.726, 1.70], [2003.763, 2.00], [2003.775, 1.90], [2003.782, 0.55], [2003.886, 0.60],
    [2004.010, 0.75], [2004.133, 0.75], [2004.232, 0.85], [2004.257, 1.20], [2004.282, 1.80],
    [2004.319, 3.00], [2004.356, 4.20], [2004.368, 4.60], [2004.373, 0.80], [2004.405, 1.70],
    [2004.442, 2.70], [2004.467, 3.50], [2004.479, 4.00], [2004.484, 0.30], [2004.517, 1.30],
    [2004.541, 3.00], [2004.566, 4.80], [2004.603, 5.70], [2004.628, 6.00], [2004.653, 6.10],
    [2004.658, 0.30], [2004.677, 0.60], [2004.702, 1.80], [2004.735, 2.70], [2004.772, 3.50],
    [2004.808, 3.90], [2004.832, 4.00], [2004.839, 0.50], [2004.868, 0.45], [2004.940, 0.60],
    [2004.988, 0.75], [2005.084, 0.80], [2005.192, 0.85], [2005.229, 1.50], [2005.253, 2.30],
    [2005.277, 3.30], [2005.313, 4.50], [2005.337, 5.40], [2005.349, 5.50], [2005.354, 0.40],
    [2005.373, 1.00], [2005.421, 2.20], [2005.457, 3.30], [2005.493, 4.30], [2005.529, 4.80],
    [2005.565, 5.00], [2005.650, 5.20], [2005.654, 0.30], [2005.686, 1.40], [2005.722, 2.70],
    [2005.758, 3.30], [2005.794, 3.60], [2005.813, 3.70], [2005.818, 0.55], [2005.854, 0.80],
    [2005.926, 0.90], [2006.046, 0.90], [2006.143, 0.85], [2006.203, 1.00], [2006.239, 1.60],
    [2006.287, 2.50], [2006.335, 3.50], [2006.371, 4.20], [2006.395, 4.30], [2006.402, 0.35],
    [2006.431, 1.00], [2006.467, 2.00], [2006.503, 2.80], [2006.511, 0.50], [2006.540, 1.00],
    [2006.576, 2.70], [2006.612, 3.90], [2006.648, 4.60], [2006.684, 5.00], [2006.691, 0.55],
    [2006.720, 0.70], [2006.756, 2.00], [2006.792, 3.50], [2006.816, 4.10], [2006.821, 0.65],
    [2006.864, 1.00], [2006.912, 1.40], [2006.961, 1.60], [2007.009, 1.60], [2007.057, 2.20],
    [2007.105, 2.10], [2007.153, 2.50], [2007.201, 3.30], [2007.249, 3.80], [2007.285, 4.80],
    [2007.309, 6.50], [2007.314, 0.90], [2007.345, 1.50], [2007.394, 2.70], [2007.442, 3.70],
    [2007.490, 4.30], [2007.514, 5.20], [2007.519, 0.20], [2007.550, 1.50], [2007.598, 3.30],
    [2007.634, 4.30], [2007.644, 4.90], [2007.646, 0.30], [2007.682, 1.30], [2007.731, 2.80],
    [2007.767, 3.60], [2007.774, 0.40], [2007.803, 0.70], [2007.875, 0.80], [2007.923, 0.85],
    [2007.959, 0.85], [2007.966, 0.45], [2008.000, 0.45],
]

# ---------------- observed LAI: time, value, error ----------------
LAI_OBS = [
    [2002.297, 1.69, 0], [2002.329, 3.14, 0.47], [2002.366, 0.03, 0], [2002.408, 0.74, 0.37],
    [2002.447, 2.92, 0.27], [2002.477, 5.40, 0.71], [2002.482, 0.32, 0], [2002.522, 0.95, 0.25],
    [2002.556, 2.88, 0.40], [2002.616, 5.40, 0.80], [2002.616, 0.32, 0],
    [2003.256, 1.02, 0.32], [2003.288, 1.89, 0.34], [2003.318, 3.77, 0.41], [2003.342, 5.08, 0.42],
    [2003.357, 6.80, 0.38], [2003.375, 6.57, 0.40], [2003.399, 7.05, 0.71], [2003.404, 0.50, 0],
    [2003.412, 0.47, 0.10], [2003.436, 0.83, 0.20], [2003.466, 1.08, 0.25], [2003.486, 1.02, 0.20],
    [2003.533, 1.84, 0.45], [2003.560, 1.20, 0.25], [2003.590, 0.32, 0], [2003.639, 0.57, 0],
    [2003.669, 0.67, 0.10], [2003.708, 2.73, 0.89], [2003.745, 4.05, 0.74], [2003.780, 4.26, 0.66],
    [2003.780, 0.32, 0],
    [2004.262, 1.10, 0.38], [2004.287, 1.94, 0.42], [2004.321, 4.22, 0.76], [2004.351, 5.49, 0.89],
    [2004.351, 0.32, 0], [2004.381, 0.88, 0], [2004.400, 1.72, 0.32], [2004.423, 3.15, 0.54],
    [2004.455, 4.57, 0.38], [2004.475, 5.50, 0.39], [2004.480, 0.32, 0], [2004.497, 0.76, 0],
    [2004.522, 1.30, 0.25], [2004.549, 2.96, 0.41], [2004.578, 3.46, 0.32], [2004.608, 4.15, 0.54],
    [2004.628, 3.75, 0.40], [2004.665, 0.42, 0], [2004.739, 2.73, 0.44], [2004.789, 3.62, 0.55],
    [2004.824, 3.58, 0.38], [2004.839, 0.17, 0], [2004.928, 0.22, 0],
    [2005.216, 0.10, 0], [2005.241, 0.32, 0], [2005.277, 1.20, 0.28], [2005.301, 1.97, 0.32],
    [2005.332, 3.28, 0.48], [2005.356, 0.22, 0], [2005.373, 0.89, 0], [2005.402, 2.25, 0.22],
    [2005.421, 3.14, 0], [2005.445, 3.68, 0], [2005.469, 4.19, 0.44], [2005.486, 0.22, 0],
    [2005.498, 0.57, 0], [2005.517, 1.05, 0.28], [2005.546, 2.22, 0], [2005.565, 2.57, 0],
    [2005.594, 2.73, 0], [2005.618, 2.83, 0], [2005.642, 2.95, 0], [2005.661, 0.67, 0],
    [2005.661, 0.17, 0], [2005.686, 1.08, 0], [2005.726, 1.14, 0.19], [2005.770, 2.22, 0.83],
    [2005.794, 2.10, 0], [2005.813, 0.22, 0], [2005.926, 0.15, 0],
    [2006.258, 0.10, 0], [2006.299, 0.44, 0], [2006.316, 1.27, 0.35], [2006.330, 2.03, 0],
    [2006.347, 2.38, 0], [2006.364, 2.88, 0], [2006.371, 3.24, 0], [2006.390, 3.90, 0.67],
    [2006.395, 0.32, 0], [2006.451, 1.20, 0], [2006.479, 1.78, 0.25], [2006.511, 0.10, 0],
    [2006.520, 0.34, 0], [2006.547, 0.63, 0], [2006.588, 1.20, 0.51], [2006.641, 2.77, 0.79],
    [2006.696, 0.32, 0], [2006.696, 0.04, 0], [2006.725, 1.14, 0], [2006.811, 0.32, 0],
    [2006.811, 0.04, 0], [2006.811, 3.94, 0.67], [2006.912, 1.75, 0.39],
    [2007.249, 1.02, 0.28], [2007.293, 2.38, 0.48], [2007.317, 3.98, 0.48], [2007.317, 0.22, 0],
    [2007.357, 1.42, 0], [2007.436, 5.76, 1.23], [2007.514, 0.23, 0], [2007.581, 3.21, 0.76],
    [2007.641, 4.93, 1.56], [2007.646, 0.22, 0], [2007.646, 0.00, 0], [2007.713, 4.23, 1.50],
    [2007.774, 5.40, 0.93], [2007.778, 0.23, 0],
]

# =====================================================================
FRAME = "#1e1e1e"
AX_LW = 1.6
TICK_FONT = dict(family="Liberation Sans, Arial, sans-serif", size=23, color="#222")
YTICK_FONT = dict(family="Liberation Sans, Arial, sans-serif", size=22, color="#222")
TITLE_FONT = dict(family="Liberation Sans, Arial, sans-serif", size=28, color="#222")

X_RANGE = (2001.761, 2008.219)
W_RANGE = (0.134, 0.566)
LAI_RANGE = (-0.4, 10.4)

OFFSETS = {1: (0, 0), 2: (371, 160), 3: (575, 360)}
OUTER = {1: (8, 4, 1163, 778), 2: (379, 165, 1534, 937), 3: (583, 361, 1760, 1175)}


def wbox(p):
    dx, dy = OFFSETS[p]
    return (134 + dx, 21 + dy, 1135 + dx, 304 + dy)


def lbox(p):
    dx, dy = OFFSETS[p]
    return (134 + dx, 405 + dy, 1135 + dx, 689 + dy)


def xr(l, r, full):
    L, _, R, _ = full
    s = X_RANGE[1] - X_RANGE[0]
    return [X_RANGE[0] + (l - L) / (R - L) * s, X_RANGE[0] + (r - L) / (R - L) * s]


def yr(t, b, full, rng):
    _, T, _, B = full
    s = rng[1] - rng[0]
    return [rng[1] - (b - T) / (B - T) * s, rng[1] - (t - T) / (B - T) * s]


def px(x):
    return x / FIG_W


def py(y):
    return 1 - y / FIG_H


# pieces: (panel, kind, full box, visible box, x style, y mirror)
W1, L1 = wbox(1), lbox(1)
W2, L2 = wbox(2), lbox(2)
W3, L3 = wbox(3), lbox(3)
P2L, P2T = OUTER[2][0], OUTER[2][1]
P3L, P3T = OUTER[3][0], OUTER[3][1]
PIECES = [
    (1, "W", W1, (W1[0], W1[1], W1[2], P2T), "top", True),
    (1, "W", W1, (W1[0], P2T, P2L - 1, W1[3]), "bottom", False),
    (1, "LAI", L1, (L1[0], L1[1], P2L - 1, L1[3]), "bottom_mirror", False),
    (2, "W", W2, (W2[0], W2[1], W2[2], P3T), "top", True),
    (2, "W", W2, (W2[0], P3T, P3L - 1, W2[3]), "bottom", False),
    (2, "LAI", L2, (L2[0], L2[1], P3L - 1, L2[3]), "bottom_mirror", False),
    (3, "W", W3, W3, "bottom_mirror", True),
    (3, "LAI", L3, L3, "bottom_mirror", True),
]

W_SIM = {1: W_MODVEGE, 2: W_PROGRASS, 3: W_ECOSYS}
LAI_SIM = {1: LAI_MODVEGE, 2: LAI_PROGRASS, 3: LAI_ECOSYS}
NAME_POS = {1: (2001.955, 0.201), 2: (2001.890, 0.201), 3: (2001.950, 0.201)}
NAME_PIECE = {1: 1, 2: 4, 3: 6}


def split(pairs):
    return [p[0] for p in pairs], [p[1] for p in pairs]


fig = go.Figure()
layout_axes = {}

for i, (panel, kind, full, vis, xstyle, ymirror) in enumerate(PIECES):
    n = i + 1
    sfx = "" if n == 1 else str(n)
    xref, yref = "x" + sfx, "y" + sfx
    l, t, r, b = vis
    rng = W_RANGE if kind == "W" else LAI_RANGE
    xa = dict(domain=[px(l), px(r)], range=xr(l, r, full), anchor=yref,
              showgrid=False, zeroline=False, showline=True, linecolor=FRAME,
              linewidth=AX_LW, ticks="", showticklabels=False, fixedrange=True)
    if xstyle == "top":
        xa.update(side="top", mirror=False)
    else:
        xa.update(side="bottom", mirror=(xstyle == "bottom_mirror"),
                  tickmode="array", tickvals=YEAR_LABEL_POS, ticktext=YEAR_LABELS,
                  showticklabels=True, tickfont=TICK_FONT, ticklabelstandoff=20,
                  minor=dict(tickmode="array", tickvals=YEAR_TICKS, ticks="outside",
                             ticklen=11, tickwidth=AX_LW, tickcolor=FRAME))
    ya = dict(domain=[py(b), py(t)], range=yr(t, b, full, rng), anchor=xref,
              showgrid=False, zeroline=False, showline=True, linecolor=FRAME,
              linewidth=AX_LW, mirror=ymirror, tickmode="array",
              tickvals=W_TICKS if kind == "W" else LAI_TICKS,
              ticktext=W_TICK_TEXT if kind == "W" else LAI_TICK_TEXT,
              ticks="outside", ticklen=11, tickwidth=AX_LW, tickcolor=FRAME,
              tickangle=-90, tickfont=YTICK_FONT, ticklabelstandoff=8, fixedrange=True)
    layout_axes["xaxis" + sfx] = xa
    layout_axes["yaxis" + sfx] = ya

    if kind == "W":
        ox, oy = split(W_OBS)
        fig.add_trace(go.Scatter(x=ox, y=oy, mode="lines", connectgaps=False,
                                 line=dict(color="#979797", width=8),
                                 xaxis=xref, yaxis=yref, hoverinfo="skip"))
        sx, sy = split(W_SIM[panel])
        fig.add_trace(go.Scatter(x=sx, y=sy, mode="lines",
                                 line=dict(color="black", width=3),
                                 xaxis=xref, yaxis=yref, hoverinfo="skip"))
        if panel == 3:
            bx, by = [], []
            for a, z in LIQ_SOLID_WINDOWS:
                for tt, vv in W_ECOSYS:
                    if a <= tt <= z:
                        bx.append(tt)
                        by.append(vv)
                bx.append(None)
                by.append(None)
            fig.add_trace(go.Scatter(x=bx, y=by, mode="lines", connectgaps=False,
                                     line=dict(color="#1414ff", width=1.8),
                                     xaxis=xref, yaxis=yref, hoverinfo="skip"))
            dx_, dy_ = [], []
            for seg in W_ECOSYS_LIQ_WINTER:
                for tt, vv in seg:
                    dx_.append(tt)
                    dy_.append(vv)
                dx_.append(None)
                dy_.append(None)
            fig.add_trace(go.Scatter(x=dx_, y=dy_, mode="lines", connectgaps=False,
                                     line=dict(color="#1414ff", width=2, dash="7px,4px"),
                                     xaxis=xref, yaxis=yref, hoverinfo="skip"))
    else:
        sx, sy = split(LAI_SIM[panel])
        fig.add_trace(go.Scatter(x=sx, y=sy, mode="lines",
                                 line=dict(color="black", width=1.5),
                                 xaxis=xref, yaxis=yref, hoverinfo="skip"))
        fig.add_trace(go.Scatter(
            x=[o[0] for o in LAI_OBS], y=[o[1] for o in LAI_OBS], mode="markers",
            marker=dict(symbol="square", size=10, color="#bdbdbd",
                        line=dict(color="#111", width=1.5)),
            error_y=dict(type="data", array=[o[2] for o in LAI_OBS], visible=True,
                         color="#111", thickness=1.5, width=4),
            xaxis=xref, yaxis=yref, hoverinfo="skip"))

    for pnl, pidx in NAME_PIECE.items():
        if pidx == i:
            nx, ny = NAME_POS[pnl]
            fig.add_trace(go.Scatter(
                x=[nx], y=[ny], mode="text", text=[MODEL_NAMES[pnl - 1]],
                textposition="middle right", cliponaxis=True,
                textfont=dict(family="Open Sans, sans-serif", size=46, color="#0a0af0",
                              shadow="2px 2px 3px rgba(0,0,0,0.35)"),
                xaxis=xref, yaxis=yref, hoverinfo="skip"))

# ---------------- panels (shadows + white cards) ----------------
shapes = []
for p in (1, 2, 3):
    L, T, R, B = OUTER[p]
    for k in range(1, 11):
        shapes.append(dict(type="rect", xref="paper", yref="paper", layer="below",
                           x0=px(L + k), x1=px(R + k), y0=py(B + k), y1=py(T + k),
                           fillcolor="rgba(0,0,0,0.045)", line=dict(width=0)))
    shapes.append(dict(type="rect", xref="paper", yref="paper", layer="below",
                       x0=px(L), x1=px(R), y0=py(B), y1=py(T),
                       fillcolor="white", line=dict(color="black", width=2)))

# ---------------- annotations ----------------
ann = []
W_TITLE = "W [m<sup>3</sup> m<sup>\u22123</sup>]"
LAI_TITLE = "LAI [m<sup>2</sup> m<sup>\u22122</sup>]"
for p in (1, 2, 3):
    wl, wt, wr, wb = wbox(p)
    ll, lt, lr, lb = lbox(p)
    ann.append(dict(text=W_TITLE, x=px(wl - 77), y=py((wt + wb) / 2), xref="paper", yref="paper",
                    textangle=-90, showarrow=False, font=TITLE_FONT,
                    xanchor="center", yanchor="middle"))
    ann.append(dict(text=LAI_TITLE, x=px(ll - 77), y=py((lt + lb) / 2), xref="paper", yref="paper",
                    textangle=-90, showarrow=False, font=TITLE_FONT,
                    xanchor="center", yanchor="middle"))

STAT_FONT = dict(family="Liberation Sans, Arial, sans-serif", size=19, color="#222")
for j, s in enumerate(STATS_W):
    ann.append(dict(text=s, x=px(1700), y=py(588 + 26 * j), xref="paper", yref="paper",
                    xanchor="right", yanchor="middle", showarrow=False, font=STAT_FONT))
for j, s in enumerate(STATS_LAI):
    ann.append(dict(text=s, x=px(1700), y=py(789 + 26 * j), xref="paper", yref="paper",
                    xanchor="right", yanchor="middle", showarrow=False, font=STAT_FONT))
ann.append(dict(text="year", x=px(1210), y=py(1117), xref="paper", yref="paper",
                xanchor="center", yanchor="middle", showarrow=False,
                font=dict(family="Liberation Sans, Arial, sans-serif", size=27, color="#222")))
ann.append(dict(text="Calanca et al. (2016) + unpubl.", x=px(13), y=py(1110),
                xref="paper", yref="paper", xanchor="left", yanchor="middle", showarrow=False,
                font=dict(family="Open Sans, sans-serif", size=37.5, color="#111")))

fig.update_layout(
    width=FIG_W, height=FIG_H, margin=dict(l=0, r=0, t=0, b=0),
    paper_bgcolor="white", plot_bgcolor="rgba(0,0,0,0)", showlegend=False,
    template="none", shapes=shapes, annotations=ann, **layout_axes,
)

fig.write_html("out.html")
